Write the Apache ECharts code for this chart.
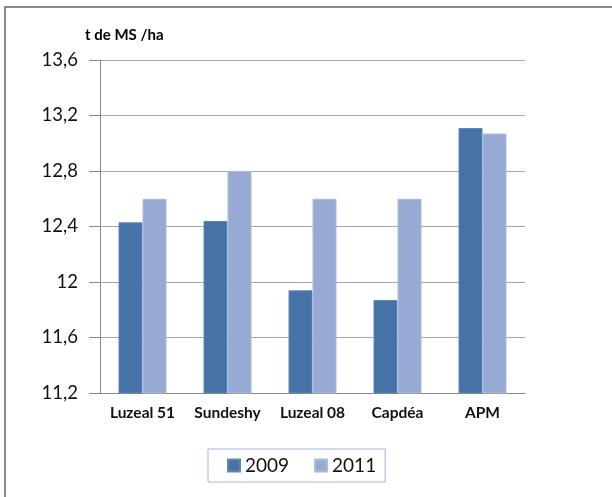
<!DOCTYPE html>
<html>
<head>
<meta charset="utf-8">
<script src="https://cdn.jsdelivr.net/npm/echarts@6/dist/echarts.min.js"></script>
<style>
html,body{margin:0;padding:0;background:#fff;}
#c{width:612px;height:497px;}
</style>
</head>
<body>
<div id="c"></div>
<script>
const categories = ['Luzeal 51', 'Sundeshy', 'Luzeal 08', 'Capdéa', 'APM'];
const values2009 = [12.43, 12.44, 11.94, 11.87, 13.11];
const values2011 = [12.60, 12.80, 12.60, 12.60, 13.07];
const seriesNames = ['2009', '2011'];
const yTitle = 't de MS /ha';

const FONT = 'Lato, sans-serif';
const chart = echarts.init(document.getElementById('c'), null, {renderer: 'canvas'});
chart.setOption({
  animation: false,
  backgroundColor: '#fff',
  graphic: [
    {type: 'rect', shape: {x: 5, y: 7, width: 700, height: 600},
     style: {fill: 'none', stroke: '#8a8a8a', lineWidth: 2}, silent: true},
    {type: 'text', left: 85, top: 28,
     style: {text: yTitle, font: 'bold 15px ' + FONT, fill: '#000'}}
  ],
  legend: {
    data: seriesNames,
    left: 208, top: 449,
    padding: [7, 9, 7, 19],
    borderColor: '#9bb7dc',
    borderWidth: 1,
    itemWidth: 12, itemHeight: 12,
    itemGap: 25,
    icon: 'rect',
    textStyle: {fontSize: 19, fontFamily: FONT, color: '#111'}
  },
  grid: {left: 100, right: 87, top: 60, bottom: 104, containLabel: false},
  xAxis: {
    type: 'category',
    data: categories,
    axisLine: {lineStyle: {color: '#888', width: 1}},
    axisTick: {show: false},
    axisLabel: {fontFamily: FONT, fontWeight: 'bold', fontSize: 15.5, color: '#111', margin: 12, interval: 0}
  },
  yAxis: {
    type: 'value',
    min: 11.2, max: 13.6, interval: 0.4,
    axisLine: {show: true, lineStyle: {color: '#888', width: 1}},
    axisTick: {show: true, inside: false, length: 11, lineStyle: {color: '#888'}},
    splitLine: {lineStyle: {color: '#a6a6a6', width: 1}},
    axisLabel: {
      fontFamily: FONT, fontSize: 18.5, color: '#111', margin: 22,
      formatter: v => String(Math.round(v * 10) / 10).replace('.', ',')
    }
  },
  series: [
    {name: seriesNames[0], type: 'bar', data: values2009, barWidth: 24, barGap: '0%',
     itemStyle: {color: '#4573a8', borderColor: '#5f86b5', borderWidth: 1}},
    {name: seriesNames[1], type: 'bar', data: values2011, barWidth: 24,
     itemStyle: {color: '#96aad3', borderColor: '#aabbdd', borderWidth: 1}}
  ]
});
</script>
</body>
</html>
